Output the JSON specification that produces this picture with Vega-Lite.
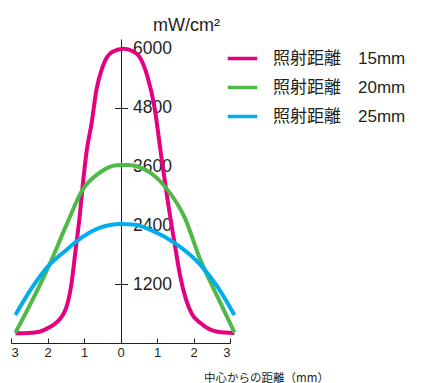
{
  "$schema": "https://vega.github.io/schema/vega-lite/v6.json",
  "autosize": "none",
  "width": 219,
  "height": 304,
  "padding": {"left": 11, "top": 39, "right": 192, "bottom": 40},
  "background": "white",
  "config": {"view": {"stroke": null}, "font": "Liberation Sans"},
  "data": {"values": [
    {"x": -2.88, "v": 200, "s": "照射距離　15mm"},
    {"x": -2.5, "v": 205, "s": "照射距離　15mm"},
    {"x": -2.22, "v": 230, "s": "照射距離　15mm"},
    {"x": -1.95, "v": 320, "s": "照射距離　15mm"},
    {"x": -1.75, "v": 420, "s": "照射距離　15mm"},
    {"x": -1.48, "v": 735, "s": "照射距離　15mm"},
    {"x": -1.34, "v": 1225, "s": "照射距離　15mm"},
    {"x": -1.23, "v": 1898, "s": "照射距離　15mm"},
    {"x": -1.12, "v": 2572, "s": "照射距離　15mm"},
    {"x": -1.03, "v": 3250, "s": "照射距離　15mm"},
    {"x": -0.93, "v": 3900, "s": "照射距離　15mm"},
    {"x": -0.79, "v": 4490, "s": "照射距離　15mm"},
    {"x": -0.66, "v": 5163, "s": "照射距離　15mm"},
    {"x": -0.49, "v": 5633, "s": "照射距離　15mm"},
    {"x": -0.22, "v": 5939, "s": "照射距離　15mm"},
    {"x": 0.1, "v": 6000, "s": "照射距離　15mm"},
    {"x": 0.33, "v": 5950, "s": "照射距離　15mm"},
    {"x": 0.52, "v": 5837, "s": "照射距離　15mm"},
    {"x": 0.74, "v": 5429, "s": "照射距離　15mm"},
    {"x": 0.93, "v": 4817, "s": "照射距離　15mm"},
    {"x": 1.11, "v": 3850, "s": "照射距離　15mm"},
    {"x": 1.29, "v": 2918, "s": "照射距離　15mm"},
    {"x": 1.48, "v": 2041, "s": "照射距離　15mm"},
    {"x": 1.64, "v": 1347, "s": "照射距離　15mm"},
    {"x": 1.79, "v": 900, "s": "照射距離　15mm"},
    {"x": 1.95, "v": 600, "s": "照射距離　15mm"},
    {"x": 2.19, "v": 408, "s": "照射距離　15mm"},
    {"x": 2.66, "v": 230, "s": "照射距離　15mm"},
    {"x": 3.12, "v": 204, "s": "照射距離　15mm"},

    {"x": -2.88, "v": 210, "s": "照射距離　20mm"},
    {"x": -2.41, "v": 878, "s": "照射距離　20mm"},
    {"x": -1.95, "v": 1592, "s": "照射距離　20mm"},
    {"x": -1.48, "v": 2408, "s": "照射距離　20mm"},
    {"x": -1.04, "v": 3123, "s": "照射距離　20mm"},
    {"x": -0.58, "v": 3469, "s": "照射距離　20mm"},
    {"x": -0.11, "v": 3625, "s": "照射距離　20mm"},
    {"x": 0.2, "v": 3630, "s": "照射距離　20mm"},
    {"x": 0.82, "v": 3469, "s": "照射距離　20mm"},
    {"x": 1.29, "v": 3123, "s": "照射距離　20mm"},
    {"x": 1.75, "v": 2572, "s": "照射距離　20mm"},
    {"x": 2.19, "v": 1694, "s": "照射距離　20mm"},
    {"x": 2.66, "v": 939, "s": "照射距離　20mm"},
    {"x": 3.12, "v": 215, "s": "照射距離　20mm"},

    {"x": -2.88, "v": 571, "s": "照射距離　25mm"},
    {"x": -2.41, "v": 1143, "s": "照射距離　25mm"},
    {"x": -1.95, "v": 1592, "s": "照射距離　25mm"},
    {"x": -1.48, "v": 1898, "s": "照射距離　25mm"},
    {"x": -1.04, "v": 2163, "s": "照射距離　25mm"},
    {"x": -0.58, "v": 2347, "s": "照射距離　25mm"},
    {"x": 0.0, "v": 2429, "s": "照射距離　25mm"},
    {"x": 0.4, "v": 2410, "s": "照射距離　25mm"},
    {"x": 0.82, "v": 2306, "s": "照射距離　25mm"},
    {"x": 1.48, "v": 2041, "s": "照射距離　25mm"},
    {"x": 2.19, "v": 1592, "s": "照射距離　25mm"},
    {"x": 2.66, "v": 1143, "s": "照射距離　25mm"},
    {"x": 3.12, "v": 571, "s": "照射距離　25mm"}
  ]},
  "resolve": {"axis": {"y": "independent"}},
  "layer": [
    {
      "mark": {"type": "line", "interpolate": "monotone", "strokeWidth": 4, "strokeCap": "butt"},
      "encoding": {
        "x": {"field": "x", "type": "quantitative",
          "scale": {"domain": [-3, 3], "nice": false, "zero": false},
          "axis": {"values": [-3, -2, -1, 0, 1, 2, 3], "labelExpr": "abs(datum.value)",
            "grid": false, "domainColor": "#231F20", "tickColor": "#231F20", "tickSize": -5,
            "labelFontSize": 13, "labelColor": "#231F20", "labelPadding": 8, "labelFont": "Liberation Sans, Arial, sans-serif",
            "title": "中心からの距離（mm）", "titleFont": "Noto Sans CJK JP", "titleFontSize": 11.5,
            "titleFontWeight": "normal", "titleColor": "#231F20", "titleAnchor": null,
            "titleX": 255, "titleY": 38, "titleAlign": "center", "titleBaseline": "alphabetic"}},
        "y": {"field": "v", "type": "quantitative",
          "scale": {"domain": [0, 6200], "nice": false},
          "axis": {"orient": "right", "offset": -109, "values": [1200, 2400, 3600, 4800, 6000], "format": "d",
            "grid": false, "domainColor": "#231F20", "tickColor": "#231F20", "tickSize": 6.5,
            "labelFontSize": 17.5, "labelColor": "#231F20", "labelPadding": 5, "labelFont": "Liberation Sans, Arial, sans-serif",
            "title": "mW/cm²", "titleFont": "Liberation Sans, Arial, sans-serif", "titleFontSize": 18, "titleFontWeight": "normal",
            "titleColor": "#231F20", "titleAngle": 0, "titleAnchor": null,
            "titleX": 65, "titleY": -9, "titleAlign": "center", "titleBaseline": "alphabetic"}},
        "color": {"field": "s", "type": "nominal",
          "scale": {"range": ["#E5007F", "#50B848", "#00AEEF"]},
          "legend": {"title": null, "orient": "none", "legendX": 215, "legendY": 3, "padding": 0,
            "symbolType": "stroke", "symbolSize": 870, "symbolStrokeWidth": 3.5,
            "labelFont": "Liberation Sans, Noto Sans CJK JP, sans-serif", "labelFontSize": 17, "labelColor": "#231F20",
            "labelOffset": 14, "rowPadding": 4, "labelLimit": 300}}
      }
    },
    {
      "mark": {"type": "line", "opacity": 0},
      "encoding": {
        "x": {"field": "x", "type": "quantitative",
          "scale": {"domain": [-3, 3], "nice": false, "zero": false},
          "axis": {"values": [-3, -2, -1, 0, 1, 2, 3], "labelExpr": "abs(datum.value)",
            "grid": false, "domainColor": "#231F20", "tickColor": "#231F20", "tickSize": -5,
            "labelFontSize": 13, "labelColor": "#231F20", "labelPadding": 8, "labelFont": "Liberation Sans, Arial, sans-serif",
            "title": "中心からの距離（mm）", "titleFont": "Noto Sans CJK JP", "titleFontSize": 11.5,
            "titleFontWeight": "normal", "titleColor": "#231F20", "titleAnchor": null,
            "titleX": 255, "titleY": 38, "titleAlign": "center", "titleBaseline": "alphabetic"}},
        "y": {"field": "v", "type": "quantitative",
          "scale": {"domain": [0, 6200], "nice": false},
          "axis": {"orient": "left", "offset": -110, "values": [1200, 2400, 3600, 4800, 6000],
            "grid": false, "domain": false, "labels": false, "title": null,
            "tickColor": "#231F20", "tickSize": 6.5}},
        "detail": {"field": "s", "type": "nominal"}
      }
    }
  ]
}
